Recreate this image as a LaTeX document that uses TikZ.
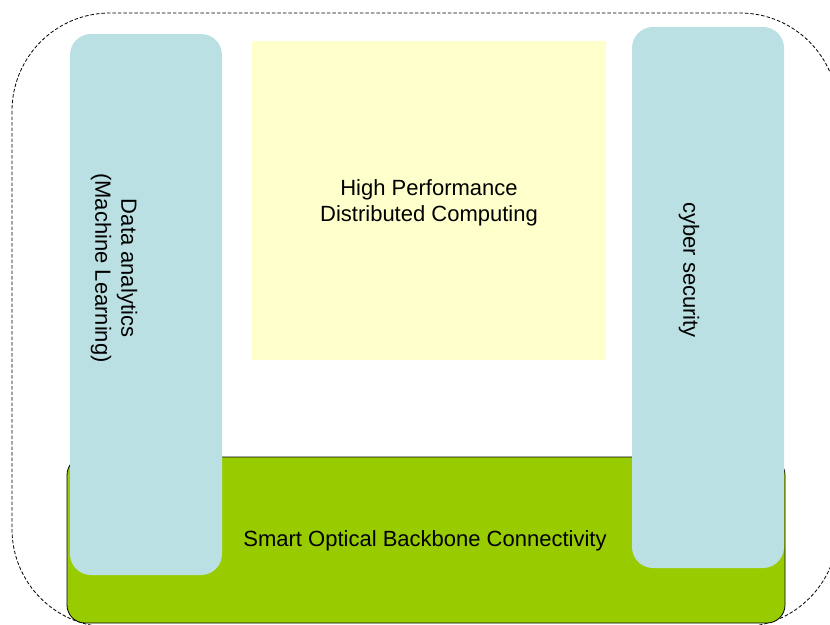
\documentclass[tikz,border=0pt]{standalone}
\usepackage{fontspec}
\setmainfont{Liberation Sans}
\definecolor{bonegreen}{HTML}{99CC00}
\definecolor{sideblue}{HTML}{BBE0E3}
\definecolor{hpcyellow}{HTML}{FFFFCC}
\begin{document}
\begin{tikzpicture}[x=1pt, y=-1pt,
    font=\fontsize{22}{26}\selectfont,
    pillar/.style={fill=sideblue, rounded corners=21pt, minimum width=152pt, minimum height=541pt},
    lbl/.style={align=center, inner sep=0pt}]
    \useasboundingbox (0,0) rectangle (830,624);
    \draw[dash pattern=on 3.5pt off 2pt, line width=0.8pt, rounded corners=98pt] (12,13) rectangle (838,627);
    \node[draw=black, line width=0.8pt, fill=bonegreen, rounded corners=18pt,
          minimum width=718pt, minimum height=166pt] (backbone) at (426,540) {};
    \node[fill=hpcyellow, minimum width=354pt, minimum height=319pt] (hpc) at (429,200.5) {};
    \node[pillar] (analytics) at (146,304.5) {};
    \node[pillar] (security) at (708,297.5) {};
    \node[lbl] (hpctext) at (429,203) {High Performance\\Distributed Computing};
    \node[lbl] (bonetext) at (425,541) {Smart Optical Backbone Connectivity};
    \node[lbl, rotate=-90] (analyticstext) at (114,268) {Data analytics\\(Machine Learning)};
    \node[lbl, rotate=-90] (securitytext) at (689,270) {cyber security};
\end{tikzpicture}
\end{document}
